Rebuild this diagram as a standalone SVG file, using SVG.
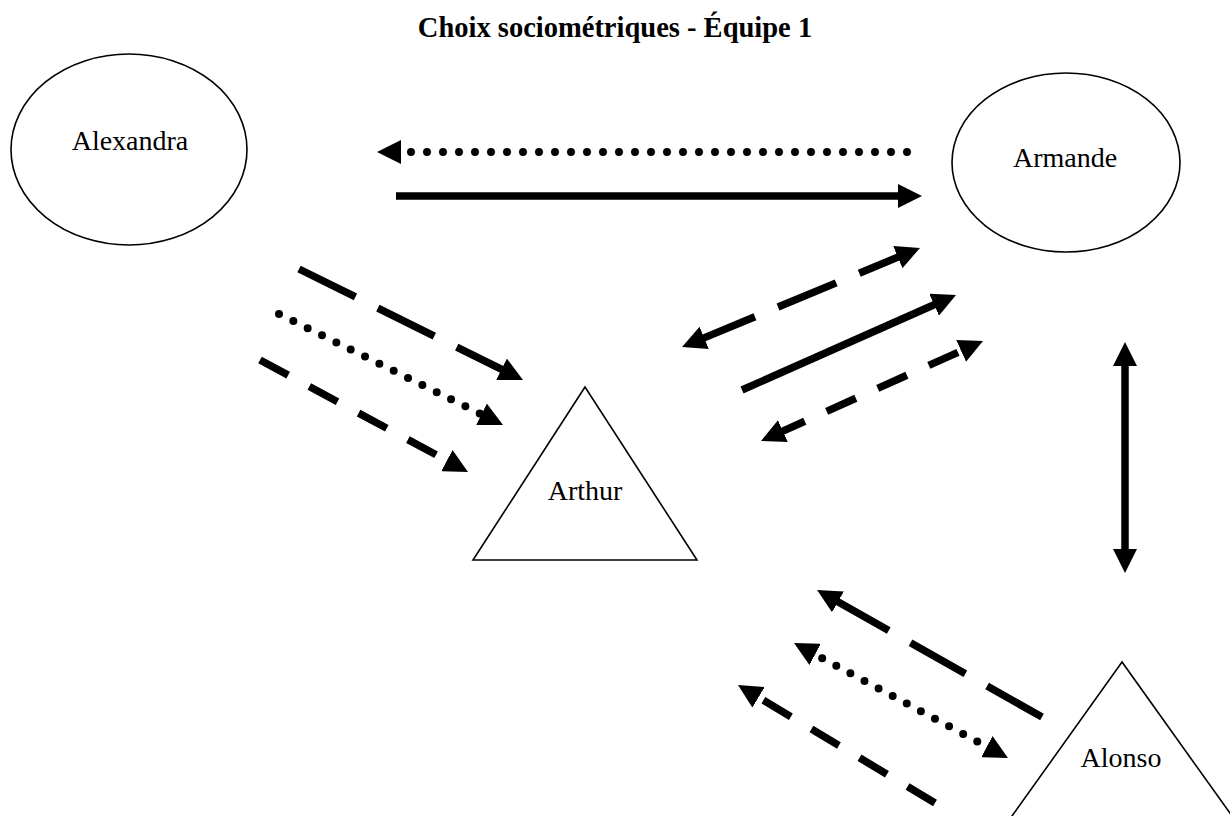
<svg xmlns="http://www.w3.org/2000/svg" width="1230" height="816" viewBox="0 0 1230 816">
<defs>
<marker id="ah" markerUnits="userSpaceOnUse" markerWidth="24" markerHeight="24" viewBox="0 0 24 24" refX="8" refY="12" orient="auto-start-reverse">
<path d="M0,0 L24,12 L0,24 z" fill="#000"/>
</marker>
<style>
.node{fill:#fff;stroke:#000;stroke-width:1.6}
.lbl{font-family:"Liberation Serif","Times New Roman",serif;font-size:28px;fill:#000;text-anchor:middle}
.title{font-family:"Liberation Serif","Times New Roman",serif;font-size:28.5px;font-weight:bold;fill:#000;text-anchor:middle}
.c{fill:none;stroke:#000;stroke-width:7.5}
.solid{}
.dot{stroke-dasharray:0 16;stroke-linecap:round;stroke-width:8}
.ldash{stroke-dasharray:63 25}
.sdash{stroke-dasharray:32 24}
.e{marker-end:url(#ah)}
.s{marker-start:url(#ah)}
</style>
</defs>
<rect width="1230" height="816" fill="#fff"/>
<text class="title" x="615" y="37">Choix sociométriques - Équipe 1</text>
<g id="alexandra">
<ellipse class="node" cx="129" cy="149.5" rx="118" ry="95.5"/>
<text class="lbl" x="130" y="150">Alexandra</text>
</g>
<g id="armande">
<ellipse class="node" cx="1066" cy="162.5" rx="114" ry="89.5"/>
<text class="lbl" x="1065" y="167">Armande</text>
</g>
<g id="arthur">
<polygon class="node" points="585,387 473,560 697,560"/>
<text class="lbl" x="585" y="500">Arthur</text>
</g>
<g id="alonso">
<polygon class="node" points="1122,662 1002,830 1242,830"/>
<text class="lbl" x="1121" y="767">Alonso</text>
</g>
<g id="connectors">
<path class="c dot e" d="M907,152 L393,152"/>
<path class="c solid e" d="M396,196 L906,196"/>
<path class="c ldash e" d="M299,269 L508.7,372.9"/>
<path class="c dot e" d="M279,314 L488.7,417.9"/>
<path class="c sdash e" d="M260,360 L453.9,464.4"/>
<path class="c ldash s e" d="M696.8,340.9 L905.2,254.1"/>
<path class="c solid e" d="M742,390 L941.4,301.5"/>
<path class="c sdash s e" d="M775.6,434.4 L968.4,347.6"/>
<path class="c solid s e" d="M1125,358 L1125,557"/>
<path class="c ldash e" d="M1042,717 L831,597.9"/>
<path class="c dot s e" d="M808.1,650.6 L993.9,750.4"/>
<path class="c sdash e" d="M935,803 L751.7,693.2"/>
</g>
</svg>
